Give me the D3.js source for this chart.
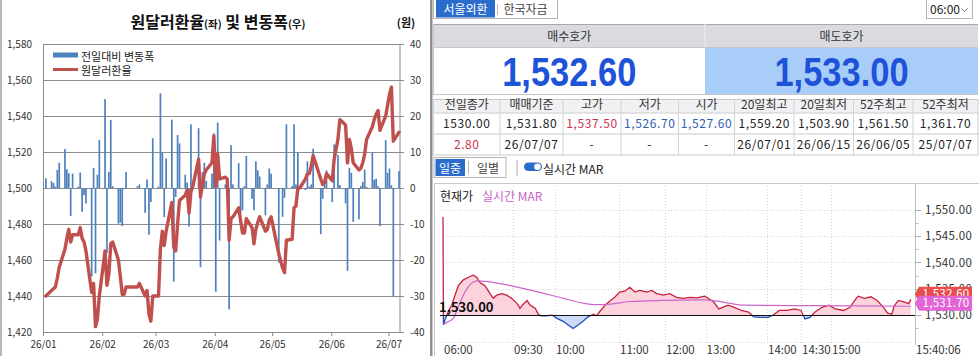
<!DOCTYPE html>
<html>
<head>
<meta charset="utf-8">
<script src="https://cdn.jsdelivr.net/npm/d3@7"></script>
<style>
  body { margin: 0; background: #fff; }
  svg { display: block; }
</style>
</head>
<body>
<svg id="chart" width="979" height="356"></svg>
<script>
// ---------- left chart data (2026 trading days) ----------
const tradeDays = [
  "01-02","01-05","01-06","01-07","01-08","01-09","01-12","01-13","01-14","01-15","01-16",
  "01-19","01-20","01-21","01-22","01-23","01-26","01-27","01-28","01-29","01-30",
  "02-02","02-03","02-04","02-05","02-06","02-09","02-10","02-11","02-12","02-13",
  "02-19","02-20","02-23","02-24","02-25","02-26","02-27",
  "03-02","03-03","03-04","03-05","03-06","03-09","03-10","03-11","03-12","03-13",
  "03-16","03-17","03-18","03-19","03-20","03-23","03-24","03-25","03-26","03-27","03-30","03-31",
  "04-01","04-02","04-03","04-06","04-07","04-08","04-09","04-10","04-13","04-14","04-15","04-16","04-17",
  "04-20","04-21","04-22","04-23","04-24","04-27","04-28","04-29","04-30",
  "05-04","05-06","05-07","05-08","05-11","05-12","05-13","05-14","05-15",
  "05-18","05-19","05-20","05-21","05-22","05-26","05-27","05-28","05-29",
  "06-01","06-02","06-04","06-05","06-08","06-09","06-10","06-11","06-12",
  "06-15","06-16","06-17","06-18","06-19","06-22","06-23","06-24","06-25","06-26","06-29","06-30",
  "07-01","07-02","07-03","07-06"
]

// 원달러환율 (left axis)
const usdKrw = [
  1440,1443,1444,1445,1450,1456,1466,1472,1477,1470,1474,1474,1478,1472,1470,1465,1442,1447,1423,1427,1440,
  1465,1446,1452,1469,1470,1460,1451,1441,1441,1445,1445,1447,1440,1443,1430,1426,1440,
  1440,1466,1476,1468,1476,1492,1467,1465,1480,1493,1496,1499,1486,1498,1501,1516,1495,1502,1508,1510,1514,1529,
  1501,1519,1505,1506,1505,1471,1483,1484,1489,1482,1475,1475,1483,1478,1469,1477,1481,1484,1476,1477,1482,1484,
  1463.5,1455.5,1453,1471,1471.5,1489,1490,1500,1500,1505,1508,1508,1512,1518,1505,1502,1503,1508,
  1504,1516,1527,1538,1535,1514,1527,1522,1514,1510,1511,1514,1519,1527,1534,1538,1541,1543,1532,1540,1546,
  1552,1556,1526,1531
]

// 전일대비 변동폭 (right axis)
const dailyChange = [
  2.7,1.9,1.4,0.4,5.0,7.0,10.8,5.2,4.1,-7.8,4.0,0.4,4.3,-6.6,-2.0,-4.3,-24.6,5.6,-23.7,3.7,13.3,
  24.7,-18.0,4.5,18.9,0.5,-9.9,-9.6,-10.6,-0.3,4.5,0.5,1.0,-6.9,2.4,-13.0,-3.9,13.8,
  0.4,26.3,9.8,-8.1,8.2,19.0,-26.0,-2.5,14.7,12.4,3.7,1.5,-10.7,17.7,1.5,16.6,-22.0,4.4,7.0,2.0,4.0,15.2,
  -28.8,18.2,-14.6,1.0,-1.0,-33.7,11.9,1.0,6.9,-7.0,-6.2,0.5,8.9,-3.0,-6.2,7.4,4.9,3.2,-7.6,1.0,5.4,4.0,
  -20.7,-8.0,-2.7,17.7,0.5,17.7,1.0,9.8,0.3,-0.6,7.4,0.4,1.0,10.9,-12.8,-3.0,1.0,4.9,
  -3.9,12.1,9.2,0.8,-4.3,-23.0,5.6,4.2,-9.4,-8.7,0.5,1.7,5.1,0.3,9.8,2.3,2.6,0.5,-10.6,13.3,4.2,
  5.4,0.8,-30.0,4.7
]

const rateTicks = [1420, 1440, 1460, 1480, 1500, 1520, 1540, 1560, 1580]
const changeTicks = [-40, -30, -20, -10, 0, 10, 20, 30, 40]
const monthTicks = ["2026-01-01","2026-02-01","2026-03-01","2026-04-01","2026-05-01","2026-06-01","2026-07-01"]
const legendLabels = ["전일대비 변동폭", "원달러환율"]

// ---------- right panel data ----------
const marketTabs = ["서울외환", "한국자금"]
const sessionStart = "06:00"
const quoteHeads = ["매수호가", "매도호가"]
const quoteValues = [1532.60, 1533.00]
const statHeads = ["전일종가","매매기준","고가","저가","시가","20일최고","20일최저","52주최고","52주최저"]
const statValues = ["1530.00","1,531.80","1,537.50","1,526.70","1,527.60","1,559.20","1,503.90","1,561.50","1,361.70"]
const statSubs = ["2.80","26/07/07","-","-","-","26/07/01","26/06/15","26/06/05","25/07/07"]
const viewTabs = ["일중", "일별"]

// intraday ticks
const priceTimes = ["06:00","06:01","06:06","06:11","06:16","06:26","06:36","06:46","07:01","07:16","07:31","07:41","07:51",
  "08:06","08:21","08:31","08:41","08:56","09:11","09:26","09:33","09:35","09:37","09:40","09:42","09:46","09:48","09:50",
  "09:54","09:58","10:02","10:08","10:12","10:17","10:22","10:26","10:31","10:36","10:39","10:42","10:47","10:52","10:56",
  "11:01","11:08","11:14","11:21","11:27","11:36","11:43","11:49","11:58","12:07","12:17","12:27","12:37","12:47","12:59",
  "13:08","13:13","13:22","13:28","13:35","13:42","13:47","13:54","14:01","14:05","14:11","14:18","14:24","14:30","14:34",
  "14:39","14:44","14:51","14:58","15:02","15:06","15:09","15:12","15:13","15:16","15:19","15:22","15:25","15:27","15:29",
  "15:30","15:32","15:35","15:37","15:38"]
const prices = [1548.6,1528.2,1529.1,1530.0,1530.7,1531.9,1533.8,1535.6,1536.7,1537.2,1537.6,1537.2,1536.2,
  1535.6,1534.1,1533.2,1533.8,1534.1,1533.8,1533.2,1532.2,1531.3,1532.0,1532.8,1532.0,1531.3,1530.2,1529.9,
  1529.9,1530.0,1529.4,1528.8,1528.2,1527.5,1528.2,1528.8,1529.7,1530.2,1529.9,1530.7,1531.9,1532.8,1533.4,
  1534.4,1534.6,1535.3,1534.4,1534.7,1534.4,1534.7,1534.1,1533.8,1534.1,1533.4,1533.2,1533.4,1533.3,1533.6,
  1532.5,1531.2,1531.9,1531.5,1530.9,1530.6,1529.7,1529.6,1529.6,1530.0,1530.9,1530.9,1531.2,1530.9,1529.3,
  1529.6,1530.6,1531.5,1531.9,1531.2,1530.9,1531.5,1533.2,1533.6,1533.2,1533.5,1532.8,1531.5,1530.4,1530.2,
  1531.7,1532.8,1532.5,1532.2,1533.0]
const marTimes = ["06:01","06:16","06:31","06:46","07:01","07:16","07:31","07:46","08:41","09:42","10:08","10:26",
  "10:39","10:52","11:14","11:58","12:59","13:39","14:44","15:38"]
const marValues = [1528.2,1528.8,1529.4,1531.6,1533.8,1535.4,1536.3,1536.5,1536.1,1534.8,1533.2,1532.3,
  1532.0,1532.1,1532.6,1532.8,1532.9,1531.9,1531.8,1531.7]
const prevClose = 1530
const lastMar = 1531.7
const priceTicks = [1530, 1535, 1540, 1545, 1550]
const timeTicks = ["06:00","09:30","10:00","11:00","12:00","13:00","14:00","14:30","15:00","15:40"]
const timeLabels = ["06:00","09:30","10:00","11:00","12:00","13:00","14:00","14:30","15:00","15:40:06"]

// ---------- styles ----------
const KR = "'Noto Sans CJK KR', 'Noto Sans', sans-serif"
const barColor = "#4f81bd"
const lineColor = "#c0504d"
const gridColor = "#8c8c8c"

const svg = d3.select("#chart")

// =====================================================================
// LEFT: 원달러환율 및 변동폭
// =====================================================================
const L = svg.append("g").attr("font-family", KR)

const x = d3.scaleTime()
  .domain([new Date(2026, 0, 1), new Date(2026, 6, 7)])
  .range([43, 400])
const yL = d3.scaleLinear().domain([1420, 1580]).range([332, 44])
const yR = d3.scaleLinear().domain([-40, 40]).range([332, 44])

const parseDay = d3.timeParse("%Y-%m-%d %H")
const days = tradeDays.map(s => parseDay(`2026-${s} 12`))

L.append("line")
  .attr("x1", 1).attr("x2", 1).attr("y1", 0).attr("y2", 356)
  .attr("stroke", "#a0a0a0").attr("stroke-width", 1.5)

// gridlines
L.selectAll(".grid").data(rateTicks).join("line")
  .attr("x1", 43).attr("x2", 400)
  .attr("y1", d => Math.round(yL(d)) + 0.5)
  .attr("y2", d => Math.round(yL(d)) + 0.5)
  .attr("stroke", gridColor).attr("stroke-width", 1)

L.append("rect")
  .attr("x", 43.5).attr("y", 44.5).attr("width", 356.5).attr("height", 288)
  .attr("fill", "none").attr("stroke", gridColor)

// bars
L.selectAll(".bar").data(dailyChange).join("rect")
  .attr("x", (d, i) => x(days[i]) - 0.85)
  .attr("width", 1.7)
  .attr("y", d => Math.min(yR(d), yR(0)))
  .attr("height", d => Math.abs(yR(d) - yR(0)))
  .attr("fill", barColor)

// exchange rate line
const rateLine = d3.line()
  .x((d, i) => x(days[i]))
  .y(d => yL(d))
L.append("path")
  .datum(usdKrw)
  .attr("d", rateLine)
  .attr("fill", "none")
  .attr("stroke", lineColor)
  .attr("stroke-width", 3.4)
  .attr("stroke-linejoin", "round")
  .attr("stroke-linecap", "round")

// axes
const axL = L.append("g").attr("transform", "translate(43,0)")
  .call(d3.axisLeft(yL).tickValues(rateTicks).tickSize(0).tickPadding(11).tickFormat(d3.format(",")))
const axR = L.append("g").attr("transform", "translate(400,0)")
  .call(d3.axisRight(yR).tickValues(changeTicks).tickSize(4).tickPadding(6).tickFormat(d => String(d)))
const axB = L.append("g").attr("transform", "translate(0,332)")
  .call(d3.axisBottom(x).tickValues(monthTicks.map(d => new Date(d + "T00:00:00")))
    .tickSize(4).tickPadding(5).tickFormat(d3.timeFormat("%y/%m")))
;[axL, axR, axB].forEach(a => {
  a.select(".domain").remove()
  a.selectAll(".tick line").attr("stroke", gridColor)
  a.selectAll("text").attr("fill", "#333").attr("font-size", 10).attr("font-family", KR)
})

// title
const title = L.append("text")
  .attr("x", 218).attr("y", 28)
  .attr("text-anchor", "middle")
  .attr("font-weight", "bold").attr("font-size", 16).attr("fill", "#111")
title.append("tspan").text("원달러환율")
title.append("tspan").attr("font-size", 10.5).text("(좌)")
title.append("tspan").text(" 및 변동폭")
title.append("tspan").attr("font-size", 10.5).text("(우)")

L.append("text")
  .attr("x", 406).attr("y", 27).attr("text-anchor", "middle")
  .attr("font-weight", "bold").attr("font-size", 11).attr("fill", "#111")
  .text("(원)")

// legend
L.append("rect").attr("x", 53).attr("y", 52.5).attr("width", 25).attr("height", 5).attr("fill", barColor)
L.append("line").attr("x1", 53).attr("x2", 78).attr("y1", 69.5).attr("y2", 69.5)
  .attr("stroke", lineColor).attr("stroke-width", 3)
L.selectAll(".leg").data(legendLabels).join("text")
  .attr("x", 81).attr("y", (d, i) => 60.5 + i * 14)
  .attr("font-size", 11).attr("fill", "#222")
  .text(d => d)

// =====================================================================
// RIGHT: quote panel
// =====================================================================
const P = svg.append("g").attr("font-family", KR)

P.append("rect").attr("x", 430).attr("y", 0).attr("width", 2.5).attr("height", 356).attr("fill", "#8f8f8f")

// market tabs
P.append("rect").attr("x", 433.5).attr("y", -1).attr("width", 124).attr("height", 19.5)
  .attr("fill", "#fff").attr("stroke", "#b5b5b5")
P.append("rect").attr("x", 436).attr("y", 0).attr("width", 59).attr("height", 17.5).attr("fill", "#2a6ccc")
P.append("line").attr("x1", 497.5).attr("x2", 497.5).attr("y1", 4).attr("y2", 15).attr("stroke", "#bbb")
P.selectAll(".mtab").data(marketTabs).join("text")
  .attr("x", (d, i) => i === 0 ? 465.5 : 525.5).attr("y", 13.5)
  .attr("text-anchor", "middle").attr("font-size", 12)
  .attr("fill", (d, i) => i === 0 ? "#fff" : "#444")
  .text(d => d)

// session dropdown
P.append("rect").attr("x", 926.5).attr("y", -1).attr("width", 46).attr("height", 19.5)
  .attr("fill", "#fff").attr("stroke", "#b5b5b5")
P.append("text").attr("x", 930).attr("y", 13.5).attr("font-size", 12).attr("fill", "#222").text(sessionStart)
P.append("path").attr("d", "M961.5,8.5 l3,3 l3,-3").attr("fill", "none").attr("stroke", "#777")

// bid / ask block
const qx = [433.5, 705, 978]
P.append("rect").attr("x", 433.5).attr("y", 24).attr("width", 544.5).attr("height", 23).attr("fill", "#d9dbe0")
P.append("rect").attr("x", 705).attr("y", 47).attr("width", 273).attr("height", 47).attr("fill", "#a9cdf9")
P.append("line").attr("x1", 433.5).attr("x2", 978).attr("y1", 24.5).attr("y2", 24.5).attr("stroke", "#a8a8a8")
P.append("line").attr("x1", 433.5).attr("x2", 978).attr("y1", 47.5).attr("y2", 47.5).attr("stroke", "#c8c8c8")
P.append("line").attr("x1", 433.5).attr("x2", 978).attr("y1", 94.5).attr("y2", 94.5).attr("stroke", "#c8c8c8")
P.append("line").attr("x1", 433.5).attr("x2", 433.5).attr("y1", 24).attr("y2", 95).attr("stroke", "#c8c8c8")
P.append("line").attr("x1", 705).attr("x2", 705).attr("y1", 24).attr("y2", 47).attr("stroke", "#eeeeee")
P.selectAll(".qh").data(quoteHeads).join("text")
  .attr("x", (d, i) => (qx[i] + qx[i + 1]) / 2).attr("y", 40.5)
  .attr("text-anchor", "middle").attr("font-size", 12).attr("fill", "#333")
  .text(d => d)
P.selectAll(".qv").data(quoteValues).join("text")
  .attr("transform", (d, i) => `translate(${(qx[i] + qx[i + 1]) / 2},86) scale(1,1.2)`)
  .attr("text-anchor", "middle")
  .attr("font-family", "'Liberation Sans', Arial, sans-serif")
  .attr("font-weight", "bold").attr("font-size", 34.5).attr("fill", "#1d52d9")
  .text(d => d3.format(",.2f")(d))

// stats table
const colEdges = [433.5, 500, 563, 621, 678.5, 734.5, 794, 853.5, 913, 978]
const rowEdges = [99, 112.5, 133.5, 154.5]
const valueColors = ["#222", "#222", "#c8324e", "#2d5fb0", "#2d5fb0", "#222", "#222", "#222", "#222"]
const subColors = ["#c8324e", "#222", "#222", "#222", "#222", "#222", "#222", "#222", "#222"]
P.append("rect").attr("x", 433.5).attr("y", 99).attr("width", 544.5).attr("height", 13.5).attr("fill", "#f1f1f4")
P.selectAll(".hrow").data(rowEdges).join("line")
  .attr("x1", 433.5).attr("x2", 978).attr("y1", d => d + 0.5).attr("y2", d => d + 0.5)
  .attr("stroke", "#c9c9c9")
P.selectAll(".vcol").data(colEdges).join("line")
  .attr("x1", d => d).attr("x2", d => d).attr("y1", 99).attr("y2", 155)
  .attr("stroke", "#d2d2d2")
const colMid = i => (colEdges[i] + colEdges[i + 1]) / 2
const tableRows = [statHeads, statValues, statSubs]
const rowColors = [statHeads.map(() => "#333"), valueColors, subColors]
tableRows.forEach((row, r) => {
  P.selectAll(`.cell${r}`).data(row).join("text")
    .attr("x", (d, i) => colMid(i)).attr("y", [108.5, 127.5, 148.5][r])
    .attr("text-anchor", "middle").attr("font-size", 12)
    .attr("letter-spacing", r === 0 ? 0 : 0.6)
    .attr("fill", (d, i) => rowColors[r][i])
    .text(d => d)
})

// view tabs + realtime toggle
P.append("rect").attr("x", 434).attr("y", 157.5).attr("width", 72).attr("height", 20)
  .attr("fill", "#fff").attr("stroke", "#b5b5b5")
P.append("rect").attr("x", 435.5).attr("y", 159).attr("width", 29.5).attr("height", 17).attr("fill", "#2a6ccc")
P.append("line").attr("x1", 468.5).attr("x2", 468.5).attr("y1", 161).attr("y2", 174).attr("stroke", "#bbb")
P.selectAll(".vtab").data(viewTabs).join("text")
  .attr("x", (d, i) => i === 0 ? 450 : 488).attr("y", 172.5)
  .attr("text-anchor", "middle").attr("font-size", 12)
  .attr("fill", (d, i) => i === 0 ? "#fff" : "#444")
  .text(d => d)
P.append("line").attr("x1", 517).attr("x2", 517).attr("y1", 160).attr("y2", 176).attr("stroke", "#aaa")
P.append("rect").attr("x", 524).attr("y", 162.5).attr("width", 18).attr("height", 8.5).attr("rx", 4.25).attr("fill", "#2a6ccc")
P.append("circle").attr("cx", 537.5).attr("cy", 166.75).attr("r", 3.3).attr("fill", "#fff")
P.append("text").attr("x", 543).attr("y", 174).attr("font-size", 12).attr("fill", "#222").text("실시간 MAR")

// =====================================================================
// RIGHT: intraday chart
// =====================================================================
const toMin = s => +s.slice(0, 2) * 60 + +s.slice(3, 5)
const xI = d3.scaleLinear()
  .domain(timeTicks.map(toMin))
  .range([443, 513, 555, 619, 665, 705.5, 767, 801, 831, 915])
const yP = d3.scaleLinear().domain([1525, 1550]).range([341.6, 209.7])
const yBase = yP(prevClose)

P.append("rect").attr("x", 434.5).attr("y", 183.5).attr("width", 545).attr("height", 180)
  .attr("fill", "none").attr("stroke", "#c8c8c8")

// dotted grid
P.selectAll(".vg").data(timeTicks.slice(1, -1)).join("line")
  .attr("x1", d => Math.round(xI(toMin(d))) + 0.5).attr("x2", d => Math.round(xI(toMin(d))) + 0.5)
  .attr("y1", 186).attr("y2", 345)
  .attr("stroke", "#d4d4d4").attr("stroke-dasharray", "1,2")
P.selectAll(".hg").data([1525, 1535, 1540, 1545, 1550]).join("line")
  .attr("x1", 443).attr("x2", 915)
  .attr("y1", d => Math.round(yP(d)) + 0.5).attr("y2", d => Math.round(yP(d)) + 0.5)
  .attr("stroke", "#d4d4d4").attr("stroke-dasharray", "1,2")
P.append("line").attr("x1", 915.5).attr("x2", 915.5).attr("y1", 184).attr("y2", 345).attr("stroke", "#bdbdbd")

// price-axis labels + ticks
P.selectAll(".pt").data(priceTicks).join("line")
  .attr("x1", 916).attr("x2", 921)
  .attr("y1", d => Math.round(yP(d)) + 0.5).attr("y2", d => Math.round(yP(d)) + 0.5)
  .attr("stroke", "#aaa")
P.selectAll(".pm").data(priceTicks.map(d => d - 2.5)).join("line")
  .attr("x1", 916).attr("x2", 918.5)
  .attr("y1", d => Math.round(yP(d)) + 0.5).attr("y2", d => Math.round(yP(d)) + 0.5)
  .attr("stroke", "#bbb")
P.selectAll(".pl").data(priceTicks).join("text")
  .attr("x", 925).attr("y", d => yP(d)).attr("dy", "0.36em")
  .attr("font-size", 11.5).attr("letter-spacing", 0.3).attr("fill", "#333")
  .text(d => d3.format(",.2f")(d))

// time labels
P.selectAll(".tl").data(timeTicks).join("text")
  .attr("x", d => xI(toMin(d)) + 1).attr("y", 353.5)
  .attr("font-size", 11.5).attr("fill", "#333")
  .text((d, i) => timeLabels[i])

// price area/line split at previous close
const defs = svg.append("defs")
defs.append("clipPath").attr("id", "above")
  .append("rect").attr("x", 435).attr("y", 185).attr("width", 480).attr("height", yBase - 185)
defs.append("clipPath").attr("id", "below")
  .append("rect").attr("x", 435).attr("y", yBase).attr("width", 480).attr("height", 345 - yBase)

const tick = priceTimes.map((t, i) => ({ m: toMin(t) + (i === 1 ? 0.3 : 0), v: prices[i] }))
const area = d3.area().x(d => xI(d.m)).y0(yBase).y1(d => yP(d.v))
const pline = d3.line().x(d => xI(d.m)).y(d => yP(d.v))

P.append("path").datum(tick).attr("d", area).attr("fill", "#fcd3dc").attr("clip-path", "url(#above)")
P.append("path").datum(tick).attr("d", area).attr("fill", "#cddcf6").attr("clip-path", "url(#below)")
P.append("path").datum(tick).attr("d", pline).attr("fill", "none")
  .attr("stroke", "#c8203f").attr("stroke-width", 1.3).attr("clip-path", "url(#above)")
P.append("path").datum(tick).attr("d", pline).attr("fill", "none")
  .attr("stroke", "#1f4fb8").attr("stroke-width", 1.3).attr("clip-path", "url(#below)")

// MAR line
const mar = marTimes.map((t, i) => ({ m: toMin(t), v: marValues[i] }))
P.append("path").datum(mar)
  .attr("d", d3.line().x(d => xI(d.m)).y(d => yP(d.v)).curve(d3.curveMonotoneX))
  .attr("fill", "none").attr("stroke", "#cc66cc").attr("stroke-width", 1.2)

// previous close reference
P.append("line").attr("x1", 440).attr("x2", 915)
  .attr("y1", Math.round(yBase) + 0.5).attr("y2", Math.round(yBase) + 0.5)
  .attr("stroke", "#111").attr("stroke-width", 1)
P.append("text").attr("x", 439).attr("y", yBase - 3.5)
  .attr("font-size", 13).attr("font-weight", "bold").attr("fill", "#111")
  .text(d3.format(",.2f")(prevClose))

// legend text
P.append("text").attr("x", 440).attr("y", 201).attr("font-size", 12).attr("fill", "#222").text("현재가")
P.append("text").attr("x", 482).attr("y", 201).attr("font-size", 12).attr("fill", "#c964c9").text("실시간 MAR")

// last-value flags (current bid stacked above MAR, MAR flag drawn on top)
const flagY = yP(lastMar) - 3
const flags = [
  { v: quoteValues[0], y: flagY - 9, fill: "#ea4b4b" },
  { v: lastMar, y: flagY, fill: "#e264d6" }
]
flags.forEach(f => {
  P.append("path")
    .attr("d", `M915,${f.y} l4,-7.5 h53 v15 h-53 z`)
    .attr("fill", f.fill)
  P.append("text").attr("x", 946).attr("y", f.y).attr("dy", "0.36em")
    .attr("text-anchor", "middle").attr("font-size", 11.5).attr("fill", "#fff")
    .attr("letter-spacing", 0.3)
    .text(d3.format(",.2f")(f.v))
})
</script>
</body>
</html>
